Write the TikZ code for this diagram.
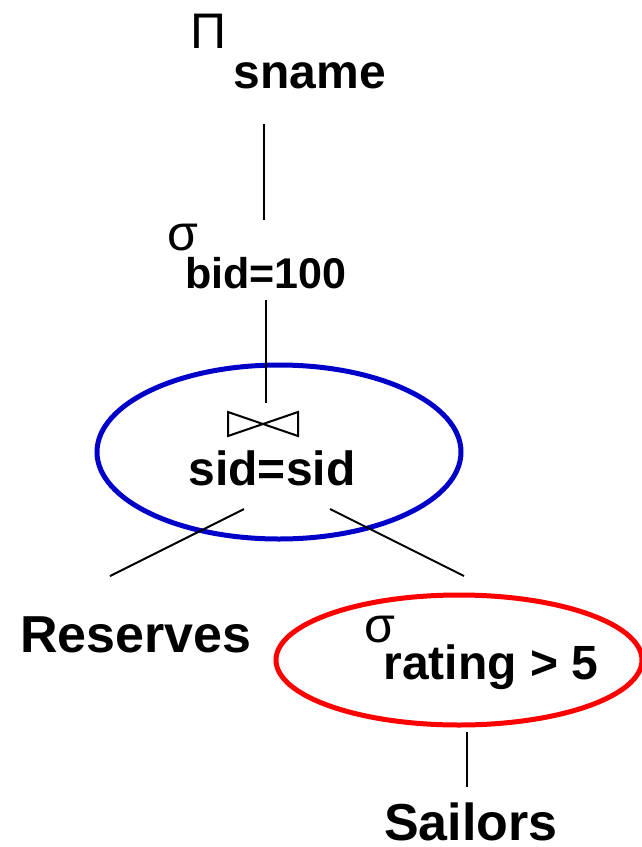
\documentclass[tikz,border=0pt]{standalone}
\usepackage{fontspec}
\setmainfont{Liberation Sans}
\usetikzlibrary{shapes.geometric}
\definecolor{joinblue}{RGB}{0,0,200}

\begin{document}
\begin{tikzpicture}[x=1pt,y=-1pt,
  rel/.style={anchor=base,inner sep=0pt,font=\fontsize{52}{60}\selectfont\bfseries},
  cond/.style={anchor=base,font=\fontsize{48}{56}\selectfont\bfseries},
  op/.style={anchor=base,font=\fontsize{50}{56}\selectfont},
  wire/.style={line width=2pt},
  ring/.style={ellipse,line width=5pt,inner sep=0pt}]
\useasboundingbox (0,0) rectangle (641,847);
% projection
\node[op] (pi) at (209,48) {Π};
\node[cond] (sname) at (310,88) {sname};
% selection on bid
\node[op] (sig1) at (183,250) {σ};
\node[cond,font=\fontsize{43}{50}\selectfont\bfseries] (bid) at (266,288) {bid=100};
% join
\node[ring,draw=joinblue,minimum width=364pt,minimum height=174pt] (join) at (279,452) {};
\coordinate (bow) at (263,424);
\draw[wire,line join=miter] ([shift={(-35,-12)}]bow) -- ([shift={(-35,12)}]bow)
  -- ([shift={(35,-12)}]bow) -- ([shift={(35,12)}]bow) -- cycle;
\node[cond] (sid) at (272,485) {sid=sid};
% leaves
\node[rel] (res) at (136,652) {Reserves};
\node[ring,draw=red,minimum width=366pt,minimum height=130pt] (sel) at (459,660) {};
\node[op] (sig2) at (380,642) {σ};
\node[cond] (rating) at (491,679) {rating > 5};
\node[rel] (sail) at (471,840) {Sailors};
% edges
\coordinate (a1) at (264,124); \coordinate (a2) at (264,220);
\coordinate (b1) at (266,300); \coordinate (b2) at (266,403);
\coordinate (c1) at (244,509); \coordinate (c2) at (110,576);
\coordinate (d1) at (330,509); \coordinate (d2) at (464,576);
\coordinate (e1) at (467,732); \coordinate (e2) at (467,787);
\draw[wire] (a1) -- (a2);
\draw[wire] (b1) -- (b2);
\draw[wire] (c1) -- (c2);
\draw[wire] (d1) -- (d2);
\draw[wire] (e1) -- (e2);
\end{tikzpicture}
\end{document}
